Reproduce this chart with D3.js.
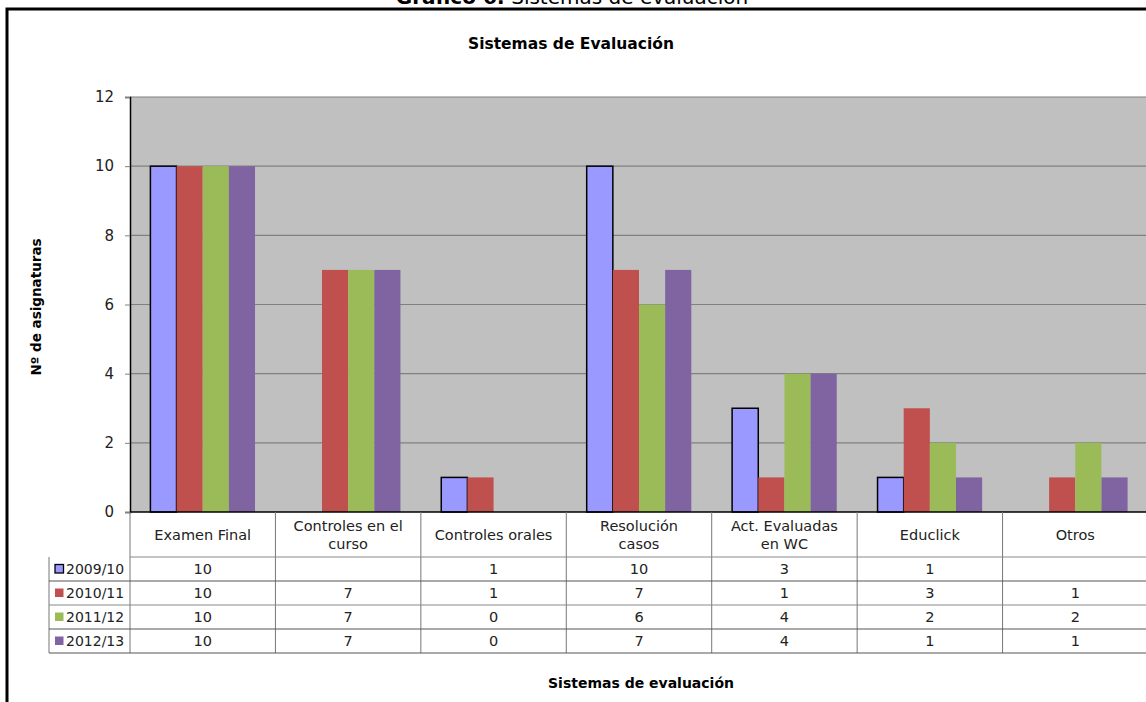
<!DOCTYPE html>
<html><head><meta charset="utf-8">
<script src="https://cdn.jsdelivr.net/npm/d3@7"></script>
<style>body{margin:0;background:#fff;} svg{display:block;font-family:"DejaVu Sans",sans-serif;}</style>
</head><body>
<svg id="c" width="1146" height="702"></svg>
<script>
const categories = ["Examen Final","Controles en el curso","Controles orales","Resolución casos","Act. Evaluadas en WC","Educlick","Otros"];
const categoryLines = [["Examen Final"],["Controles en el","curso"],["Controles orales"],["Resolución","casos"],["Act. Evaluadas","en WC"],["Educlick"],["Otros"]];
const seriesNames = ["2009/10","2010/11","2011/12","2012/13"];
const s2009 = [10,null,1,10,3,1,null];
const s2010 = [10,7,1,7,1,3,1];
const s2011 = [10,7,0,6,4,2,2];
const s2012 = [10,7,0,7,4,1,1];
const seriesValues = [s2009,s2010,s2011,s2012];
const colors = ["#9999FF","#C0504D","#9BBB59","#8064A2"];
const yTicks = [0,2,4,6,8,10,12];

const svg = d3.select("#c");
const L=130, R=1148, T=97, B=512;

// outer box
svg.append("path").attr("d","M7,702 V9 H1146").attr("fill","none").attr("stroke","#000").attr("stroke-width",3);
// top title (cut off at the top edge, as in the reference)
const tt = svg.append("text").attr("x",572).attr("y",4).attr("text-anchor","middle").attr("font-size",20);
tt.append("tspan").attr("font-weight","bold").text("Gráfico 6:");
tt.append("tspan").text(" Sistemas de evaluación");

svg.append("text").attr("x",571).attr("y",49).attr("text-anchor","middle").attr("font-size",15.5).attr("font-weight","bold").text("Sistemas de Evaluación");

const x0 = d3.scaleBand().domain(categories).range([L,R]).paddingInner(0).paddingOuter(0);
const x1 = d3.scaleBand().domain(seriesNames).range([0,x0.bandwidth()]).paddingInner(0).paddingOuter(0.78);
const y = d3.scaleLinear().domain([0,12]).range([B,T]);

svg.append("rect").attr("x",L).attr("y",T).attr("width",R-L).attr("height",B-T).attr("fill","#C0C0C0");
svg.append("g").selectAll("line").data(yTicks.filter(d=>d>0)).join("line")
  .attr("x1",L).attr("x2",R).attr("y1",d=>y(d)).attr("y2",d=>y(d)).attr("stroke","#808080").attr("stroke-width",1.2);

const yAxis = svg.append("g").attr("transform",`translate(${L},0)`)
  .call(d3.axisLeft(y).tickValues(yTicks).tickSize(5).tickPadding(11).tickFormat(d3.format("d")));
yAxis.select(".domain").attr("stroke","#000").attr("stroke-width",1.5);
yAxis.selectAll(".tick line").attr("stroke","#808080");
yAxis.selectAll(".tick text").attr("font-size",15).attr("fill","#222").attr("font-family","DejaVu Sans, sans-serif");

// bars
seriesNames.forEach((s,si)=>{
  svg.append("g").selectAll("rect").data(seriesValues[si].map((v,i)=>({v,c:categories[i]})).filter(d=>d.v!=null && d.v>0)).join("rect")
    .attr("x",d=>x0(d.c)+x1(s)).attr("width",x1.bandwidth())
    .attr("y",d=>y(d.v)).attr("height",d=>B-y(d.v))
    .attr("fill",colors[si])
    .attr("stroke",si===0?"#000":"none").attr("stroke-width",1.5);
});
// x axis line
svg.append("line").attr("x1",L).attr("x2",R).attr("y1",B).attr("y2",B).attr("stroke","#000").attr("stroke-width",1.5);

// data table
const rowY = [557,581,605,629,653];
const fs = 14.5;
const tbl = svg.append("g");
categories.forEach((c,i)=>{
  tbl.append("line").attr("x1",x0(c)+x0.bandwidth()).attr("x2",x0(c)+x0.bandwidth()).attr("y1",B).attr("y2",653).attr("stroke","#777");
  const lines = categoryLines[i];
  const cy = (B+557)/2;
  lines.forEach((ln,k)=>{
    tbl.append("text").attr("x",x0(c)+x0.bandwidth()/2).attr("y",cy+5+(k-(lines.length-1)/2)*18)
      .attr("text-anchor","middle").attr("font-size",fs).attr("fill","#222").text(ln);
  });
});
tbl.append("line").attr("x1",L).attr("x2",L).attr("y1",B).attr("y2",653).attr("stroke","#777");
tbl.append("line").attr("x1",49).attr("x2",49).attr("y1",557).attr("y2",653).attr("stroke","#777");
rowY.forEach((ry,k)=>{
  tbl.append("line").attr("x1",k===0?L:49).attr("x2",R).attr("y1",ry).attr("y2",ry).attr("stroke",k%2===1||k===4?"#555":"#888");
});
seriesNames.forEach((s,si)=>{
  const cy=(rowY[si]+rowY[si+1])/2;
  tbl.append("rect").attr("x",55).attr("y",cy-4.5).attr("width",8.5).attr("height",8.5).attr("fill",colors[si])
    .attr("stroke",si===0?"#000":"none").attr("stroke-width",1.3);
  tbl.append("text").attr("x",66).attr("y",cy+5).attr("font-size",14).attr("fill","#222").text(s);
  seriesValues[si].forEach((v,i)=>{
    if(v==null) return;
    tbl.append("text").attr("x",x0(categories[i])+x0.bandwidth()/2).attr("y",cy+5).attr("text-anchor","middle")
      .attr("font-size",fs).attr("fill","#222").text(v);
  });
});

svg.append("text").attr("x",641).attr("y",688).attr("text-anchor","middle").attr("font-size",14).attr("font-weight","bold").text("Sistemas de evaluación");
svg.append("text").attr("transform","translate(41,307) rotate(-90)").attr("text-anchor","middle").attr("font-size",13.5).attr("font-weight","bold").text("Nº de asignaturas");
</script>
</body></html>
